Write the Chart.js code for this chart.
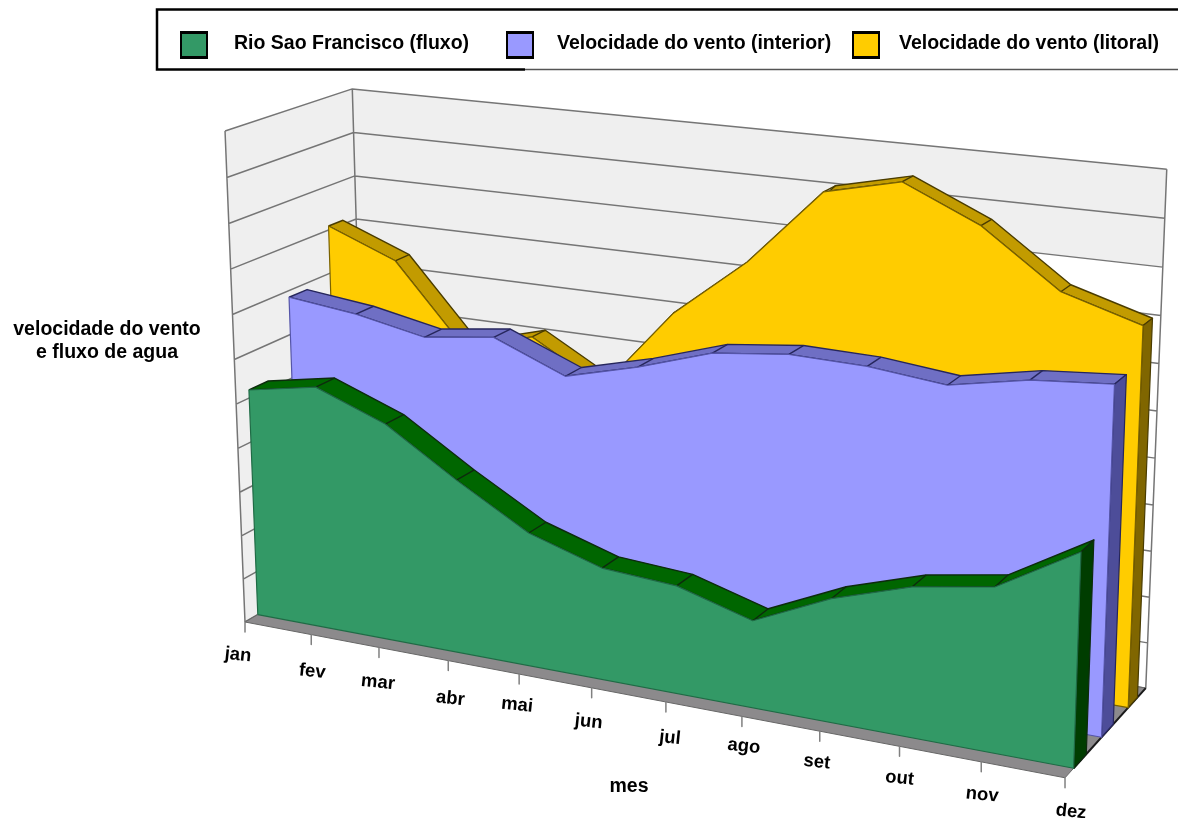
<!DOCTYPE html>
<html><head><meta charset="utf-8">
<style>html,body{margin:0;padding:0;background:#fff}canvas{display:block}</style>
<script src="https://cdn.jsdelivr.net/npm/chart.js@4"></script>
</head><body>
<canvas id="c" width="1178" height="818"></canvas>
<script>
const meses = ['jan','fev','mar','abr','mai','jun','jul','ago','set','out','nov','dez'];
const fluxoRio      = [5.18,5.47,4.88,3.88,2.97,2.47,2.36,1.89,2.65,3.18,3.46,4.45];
const ventoInterior = [6.85,6.67,6.36,6.57,5.93,6.35,6.87,7.06,7.03,6.86,7.19,7.33];
const ventoLitoral  = [8.09,7.48,5.70,6.15,5.25,7.10,8.41,10.09,10.47,9.74,8.57,8.08];
const gridValues = [0,1,2,3,4,5,6,7,8,9,10,11];
const seriesNames = ['Rio Sao Francisco (fluxo)','Velocidade do vento (interior)','Velocidade do vento (litoral)'];

/* perspective camera of the 3-D box: origin + three vanishing points */
const O=[245,622],VA=[-5703,-508],VB=[698,11760],VC=[2252,-540];
const wa=-0.12116,wb=-0.04222,wc=0.06416;
function project(t,V,d){
  const m=t/11,v=V/11;
  const w=1+m*wa+v*wb+d*wc;
  return {x:(O[0]+m*wa*VA[0]+v*wb*VB[0]+d*wc*VC[0])/w,
          y:(O[1]+m*wa*VA[1]+v*wb*VB[1]+d*wc*VC[1])/w};
}
const GAP={x:NaN,y:NaN};
const lastM=meses.length-1,maxV=gridValues[gridValues.length-1];
function poly(label,pts,fillC,lineC,lw){
  return {type:'line',label,data:[...pts,pts[0]],fill:'shape',backgroundColor:fillC,
    borderColor:lineC,borderWidth:lw,pointRadius:0,tension:0};
}
function lines(label,pts,c,lw){
  return {type:'line',label,data:pts,fill:false,borderColor:c,borderWidth:lw,pointRadius:0,tension:0,spanGaps:false};
}
function ribbon(name,vals,d0,d1,front,topC,side,edge,fEdge){
  const f=vals.map((v,i)=>project(i,v,d0));
  const b=vals.map((v,i)=>project(i,v,d1));
  const seams=[];
  vals.forEach((v,i)=>{ if(i>0&&i<lastM) seams.push(f[i],b[i],GAP); });
  return [
    poly(name+' topo',[...f,...b.slice().reverse()],topC,edge,1.4),
    lines(name+' juntas',seams,edge,1.4),
    poly(name+' lado',[f[lastM],b[lastM],project(lastM,0,d1),project(lastM,0,d0)],side,edge,1.2),
    poly(name,[project(0,0,d0),...f,project(lastM,0,d0)],front,fEdge,1.2)
  ];
}
const grid=[];
gridValues.forEach(g=>{
  grid.push(project(0,g,0),project(0,g,1),project(lastM,g,1),GAP);
});
[[0,0],[0,1],[lastM,1]].forEach(([t,d])=>grid.push(project(t,0,d),project(t,maxV,d),GAP));
const ticks=[];
meses.forEach((m,i)=>{const p=project(i,0,0);ticks.push(p,{x:p.x,y:p.y+10},GAP);});

/* painter's order, back to front; Chart.js paints the first dataset last, so the list is reversed */
const paintOrder=[
  poly('parede lateral',[project(0,0,0),project(0,maxV,0),project(0,maxV,1),project(0,0,1)],'#efefef','#efefef',0),
  poly('parede fundo',[project(0,0,1),project(0,maxV,1),project(lastM,maxV,1),project(lastM,0,1)],'#efefef','#efefef',0),
  poly('parede fundo clara',[project(lastM-2,0,1),project(lastM-2,9,1),project(lastM,9,1),project(lastM,0,1)],'#ffffff','#ffffff',0),
  lines('grade',grid,'#757575',1.5),
  poly('piso',[project(0,0,0),project(lastM,0,0),project(lastM,0,1),project(0,0,1)],'#8c8a8c','#666666',1),
  lines('borda piso',[project(lastM,0,0.1),project(lastM,0,1)],'#1a1a1a',2),
  lines('marcas',ticks,'#808080',1.5),
  ...ribbon(seriesNames[2],ventoLitoral,0.77,0.89,'#ffcc00','#c29b00','#806600','#4a3c00','#7a6200'),
  ...ribbon(seriesNames[1],ventoInterior,0.435,0.58,'#9999ff','#6f6fc4','#4d4d99','#26265c','#5555a8'),
  ...ribbon(seriesNames[0],fluxoRio,0.1,0.25,'#339966','#006600','#003d00','#0d2b0d','#1f6b45')
];
const datasets=paintOrder.slice().reverse();

const FONT='"Liberation Sans", Arial, sans-serif';
const legendItems=[
  {x:181,tx:234,c:'#339966'},{x:507,tx:557,c:'#9999ff'},{x:853,tx:899,c:'#ffcc00'}
];
const monthNudge=[[-7,2],[1,6],[-1,4],[2,7],[-2,0],[-3,3],[4,5],[2,-1],[-3,0],[0,1],[1,2],[6,3]];
const textPlugin={id:'textos',afterDraw(chart){
  const c=chart.ctx,sx=chart.scales.x,sy=chart.scales.y;
  c.save();
  c.fillStyle='#000';c.textBaseline='middle';
  // legend frame
  c.strokeStyle='#000';c.lineWidth=2.5;
  c.beginPath();c.moveTo(1178,9.5);c.lineTo(157,9.5);c.lineTo(157,69.5);c.lineTo(525,69.5);c.stroke();
  c.lineWidth=1.5;c.strokeStyle='#555';c.beginPath();c.moveTo(525,69.5);c.lineTo(1178,69.5);c.stroke();
  legendItems.forEach((it,i)=>{
    c.fillStyle='#000';c.fillRect(it.x-1,31,28,28);
    c.fillStyle=it.c;c.fillRect(it.x+1,34,24,22);
    c.fillStyle='#000';c.textAlign='left';c.font='bold 19.5px '+FONT;
    c.fillText(seriesNames[i],it.tx,44);
  });
  c.font='bold 19.5px '+FONT;c.textAlign='center';
  c.fillText('velocidade do vento',107,330);
  c.fillText('e fluxo de agua',107,353);
  c.fillText('mes',629,787);
  c.font='bold 18.5px '+FONT;
  meses.forEach((m,i)=>{
    const p=project(i,0,0),nd=monthNudge[i];
    c.save();
    c.translate(sx.getPixelForValue(p.x)+nd[0],sy.getPixelForValue(p.y)+31+nd[1]);
    c.rotate(6*Math.PI/180);
    c.fillText(m,0,0);
    c.restore();
  });
  c.restore();
}};
new Chart(document.getElementById('c'),{
  type:'line',
  data:{datasets},
  options:{
    responsive:false,animation:false,devicePixelRatio:1,
    layout:{padding:0},
    plugins:{legend:{display:false},title:{display:false},tooltip:{enabled:false}},
    elements:{line:{borderJoinStyle:'round'}},
    scales:{
      x:{type:'linear',min:0,max:1178,display:false},
      y:{type:'linear',min:0,max:818,reverse:true,display:false}
    }
  },
  plugins:[textPlugin]
});
</script>
</body></html>
